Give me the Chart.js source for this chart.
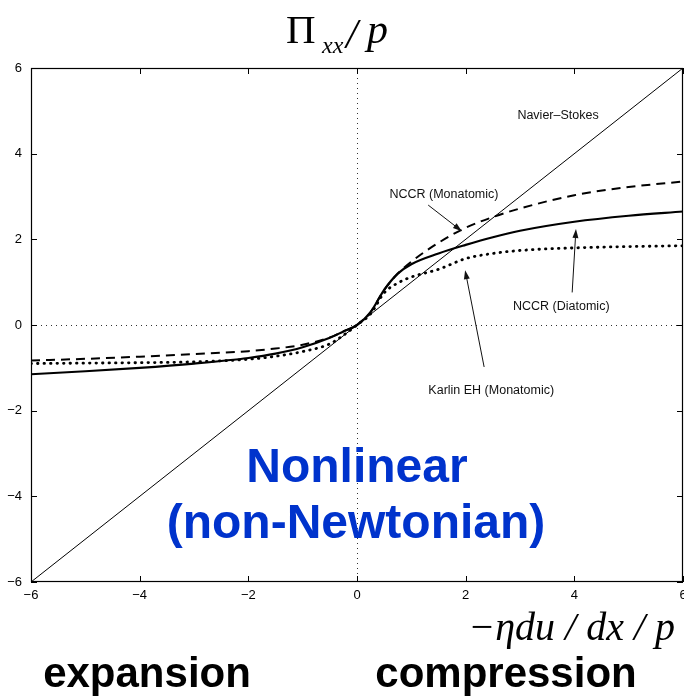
<!DOCTYPE html>
<html>
<head>
<meta charset="utf-8">
<script src="https://cdn.jsdelivr.net/npm/chart.js@4.4.1/dist/chart.umd.min.js"></script>
<style>
  html, body { margin: 0; padding: 0; background: #fff; }
  #wrap { width: 684px; height: 699px; }
</style>
</head>
<body>
<div id="wrap"><canvas id="stressChart" width="684" height="699"></canvas></div>
<script>
// strain-rate axis (-eta du/dx / p)
const xValues = [-6, -5, -4, -3, -2, -1.5, -1, -0.5, -0.25, 0, 0.25, 0.5, 0.75, 1, 1.5, 2, 2.5, 3, 4, 5, 6];
// Pi_xx / p
const nccrDiatomic = [-1.15, -1.08, -1.0, -0.9, -0.77, -0.67, -0.52, -0.3, -0.15, 0, 0.3, 0.82, 1.2, 1.42, 1.67, 1.87, 2.05, 2.2, 2.41, 2.55, 2.65];
const nccrMonatomic = [-0.83, -0.79, -0.74, -0.68, -0.61, -0.55, -0.46, -0.29, -0.15, 0, 0.3, 0.82, 1.2, 1.48, 1.92, 2.27, 2.52, 2.72, 3.03, 3.22, 3.35];
const karlinEH = [-0.9, -0.89, -0.88, -0.86, -0.8, -0.73, -0.62, -0.44, -0.24, 0, 0.26, 0.75, 0.98, 1.12, 1.3, 1.55, 1.67, 1.74, 1.8, 1.83, 1.85];
const navierX = [-6, 6];
const navierY = [-6, 6];

const xTicks = [-6, -4, -2, 0, 2, 4, 6];
const yTicks = [-6, -4, -2, 0, 2, 4, 6];

// callouts: label position and arrow (from -> to), all in data units
const callouts = [
	{ text: 'Navier\u2013Stokes', at: [3.70, 4.90] },
	{ text: 'NCCR (Monatomic)', at: [1.60, 3.05], from: [1.31, 2.80], to: [1.93, 2.19] },
	{ text: 'NCCR (Diatomic)', at: [3.76, 0.44], from: [3.96, 0.76], to: [4.03, 2.24] },
	{ text: 'Karlin EH (Monatomic)', at: [2.47, -1.52], from: [2.34, -0.98], to: [1.99, 1.28] },
];

function toPoints(xs, ys) {
	return xs.map((x, i) => ({ x, y: ys[i] }));
}

function minusSign(value) {
	return String(value).replace('-', '\u2212');
}

function drawArrow(ctx, x1, y1, x2, y2) {
	const angle = Math.atan2(y2 - y1, x2 - x1);
	const len = 9;
	const half = 3;
	ctx.beginPath();
	ctx.moveTo(x1, y1);
	ctx.lineTo(x2 - Math.cos(angle) * len * 0.6, y2 - Math.sin(angle) * len * 0.6);
	ctx.stroke();
	ctx.beginPath();
	ctx.moveTo(x2, y2);
	ctx.lineTo(x2 - Math.cos(angle) * len - Math.sin(angle) * half, y2 - Math.sin(angle) * len + Math.cos(angle) * half);
	ctx.lineTo(x2 - Math.cos(angle) * len + Math.sin(angle) * half, y2 - Math.sin(angle) * len - Math.cos(angle) * half);
	ctx.closePath();
	ctx.fill();
}

const zeroLines = {
	id: 'zeroLines',
	beforeDatasetsDraw(chart) {
		const { ctx, chartArea: a, scales: { x, y } } = chart;
		ctx.save();
		ctx.strokeStyle = '#333';
		ctx.lineWidth = 1;
		ctx.setLineDash([1, 4]);
		const x0 = Math.round(x.getPixelForValue(0)) + 0.5;
		const y0 = Math.round(y.getPixelForValue(0)) + 0.5;
		ctx.beginPath();
		ctx.moveTo(x0, a.top);
		ctx.lineTo(x0, a.bottom);
		ctx.moveTo(a.left, y0);
		ctx.lineTo(a.right, y0);
		ctx.stroke();
		ctx.restore();
	},
};

const frameAndText = {
	id: 'frameAndText',
	afterDraw(chart) {
		const { ctx, chartArea: a, scales: { x, y } } = chart;
		ctx.save();
		// frame with inward ticks
		ctx.strokeStyle = '#000';
		ctx.lineWidth = 1.2;
		ctx.strokeRect(a.left + 0.5, a.top + 0.5, a.right - a.left - 1, a.bottom - a.top - 1);
		const tl = 6;
		ctx.lineWidth = 1;
		ctx.beginPath();
		for (const v of xTicks) {
			const px = Math.round(x.getPixelForValue(v)) + 0.5;
			ctx.moveTo(px, a.bottom);
			ctx.lineTo(px, a.bottom - tl);
			ctx.moveTo(px, a.top);
			ctx.lineTo(px, a.top + tl);
		}
		for (const v of yTicks) {
			const py = Math.round(y.getPixelForValue(v)) + 0.5;
			ctx.moveTo(a.left, py);
			ctx.lineTo(a.left + tl, py);
			ctx.moveTo(a.right, py);
			ctx.lineTo(a.right - tl, py);
		}
		ctx.stroke();

		// callouts
		ctx.fillStyle = '#111';
		ctx.strokeStyle = '#111';
		ctx.lineWidth = 1;
		ctx.font = '12.5px "Liberation Sans", Arial, sans-serif';
		ctx.textAlign = 'center';
		ctx.textBaseline = 'middle';
		for (const c of callouts) {
			ctx.fillText(c.text, x.getPixelForValue(c.at[0]), y.getPixelForValue(c.at[1]));
			if (c.from) {
				drawArrow(ctx,
					x.getPixelForValue(c.from[0]), y.getPixelForValue(c.from[1]),
					x.getPixelForValue(c.to[0]), y.getPixelForValue(c.to[1]));
			}
		}

		// big blue note
		ctx.fillStyle = '#0033cc';
		ctx.font = 'bold 48px "Liberation Sans", Arial, sans-serif';
		ctx.textBaseline = 'alphabetic';
		ctx.fillText('Nonlinear', 357, 482);
		ctx.fillText('(non-Newtonian)', 356, 538);

		// expansion / compression
		ctx.fillStyle = '#000';
		ctx.font = 'bold 42px "Liberation Sans", Arial, sans-serif';
		ctx.fillText('expansion', 147, 687);
		ctx.fillText('compression', 506, 687);

		// y-axis title: Pi_xx / p
		ctx.textAlign = 'left';
		ctx.font = '41px "Liberation Serif", "Times New Roman", serif';
		ctx.fillText('\u03A0', 286, 43);
		ctx.font = 'italic 24px "Liberation Serif", "Times New Roman", serif';
		ctx.fillText('xx', 322, 53);
		ctx.font = 'italic 42px "Liberation Serif", "Times New Roman", serif';
		ctx.fillText('/', 346, 48);
		ctx.fillText('p', 367, 43);

		// x-axis title
		ctx.textAlign = 'right';
		ctx.font = 'italic 40px "Liberation Serif", "Times New Roman", serif';
		ctx.fillText('\u2212\u03B7du / dx / p', 675, 640);
		ctx.restore();
	},
};

const tickFont = { family: '"Liberation Sans", Arial, sans-serif', size: 13 };

new Chart(document.querySelector('#stressChart').getContext('2d'), {
	type: 'line',
	data: {
		datasets: [
			{
				label: 'Navier-Stokes',
				data: toPoints(navierX, navierY),
				borderColor: '#000',
				borderWidth: 1,
				pointRadius: 0,
			},
			{
				label: 'NCCR (Diatomic)',
				data: toPoints(xValues, nccrDiatomic),
				borderColor: '#000',
				borderWidth: 2.2,
				pointRadius: 0,
				cubicInterpolationMode: 'monotone',
			},
			{
				label: 'NCCR (Monatomic)',
				data: toPoints(xValues, nccrMonatomic),
				borderColor: '#000',
				borderWidth: 2,
				borderDash: [9, 6],
				pointRadius: 0,
				cubicInterpolationMode: 'monotone',
			},
			{
				label: 'Karlin EH (Monatomic)',
				data: toPoints(xValues, karlinEH),
				borderColor: '#000',
				borderWidth: 2.8,
				borderDash: [0.5, 6],
				borderCapStyle: 'round',
				pointRadius: 0,
				cubicInterpolationMode: 'monotone',
			},
		],
	},
	options: {
		responsive: false,
		animation: false,
		events: [],
		layout: { padding: { top: 68, right: 1, left: 0, bottom: 0 } },
		plugins: {
			legend: { display: false },
			tooltip: { enabled: false },
		},
		scales: {
			x: {
				type: 'linear',
				min: -6,
				max: 6,
				afterBuildTicks: (scale) => { scale.ticks = xTicks.map((value) => ({ value })); },
				afterFit: (scale) => {
					scale.height = 117;
					scale.paddingLeft = 0;
					scale.paddingRight = 0;
				},
				grid: { display: false, drawTicks: false },
				border: { display: false },
				ticks: { color: '#000', font: tickFont, padding: 6, maxRotation: 0, callback: minusSign },
			},
			y: {
				type: 'linear',
				min: -6,
				max: 6,
				afterBuildTicks: (scale) => { scale.ticks = yTicks.map((value) => ({ value })); },
				afterFit: (scale) => {
					scale.width = 31;
					scale.paddingTop = 0;
					scale.paddingBottom = 0;
				},
				grid: { display: false, drawTicks: false },
				border: { display: false },
				ticks: { color: '#000', font: tickFont, padding: 9, callback: minusSign },
			},
		},
	},
	plugins: [zeroLines, frameAndText],
});
</script>
</body>
</html>
